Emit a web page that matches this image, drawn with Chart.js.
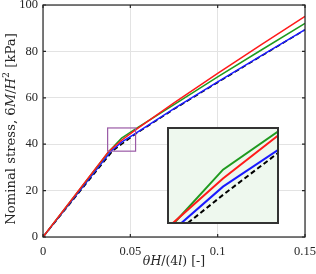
<!DOCTYPE html>
<html>
<head>
    <title>Nominal stress</title>
    <script src="https://cdn.jsdelivr.net/npm/chart.js@4.4.0/dist/chart.umd.min.js"></script>
    <style>
        body { margin: 0; background: #fff; }
        .wrap { position: relative; width: 316px; height: 274px; }
        #inset { position: absolute; left: 167px; top: 127px; }
    </style>
</head>
<body>
<div class="wrap">
    <canvas id="main" width="316" height="274"></canvas>
    <canvas id="inset" width="112" height="97"></canvas>
</div>
<script>
    // data
    const xRed   = [0, 0.0377, 0.045, 0.053, 0.075, 0.1, 0.125, 0.15];
    const yRed   = [0, 37.0, 41.7, 46.2, 57.8, 70.5, 82.9, 95.1];
    const xGreen = [0, 0.0379, 0.045, 0.053, 0.075, 0.1, 0.125, 0.15];
    const yGreen = [0, 37.0, 42.6, 46.6, 57.1, 69.0, 80.6, 92.1];
    const xBlue  = [0, 0.0389, 0.045, 0.053, 0.075, 0.1, 0.125, 0.15];
    const yBlue  = [0, 37.0, 40.85, 44.7, 55.3, 66.9, 78.2, 89.4];
    const xBlack = [0, 0.0398, 0.045, 0.053, 0.075, 0.1, 0.125, 0.15];
    const yBlack = [0, 37.0, 40.0, 44.4, 55.1, 66.6, 78.0, 89.3];

    const xTicks = [0, 0.05, 0.1, 0.15];
    const yTicks = [0, 20, 40, 60, 80, 100];
    // zoom window shown in the inset
    const zoomX = [0.037, 0.053];
    const zoomY = [37, 47];

    const serif = '"Liberation Serif", "DejaVu Serif", serif';
    const labelSerif = '"DejaVu Serif", serif';

    function pts(xs, ys) {
        return xs.map((x, i) => ({x: x, y: ys[i]}));
    }

    function makeSets(w) {
        return [
            {data: pts(xRed, yRed), borderColor: '#ff1a1a', borderWidth: w},
            {data: pts(xGreen, yGreen), borderColor: '#1f9a1f', borderWidth: w},
            {data: pts(xBlue, yBlue), borderColor: '#1a1aff', borderWidth: w},
            {data: pts(xBlack, yBlack), borderColor: '#000000', borderWidth: w, borderDash: [5, 3]}
        ].map(d => Object.assign(d, {pointRadius: 0, tension: 0, fill: false}));
    }

    // text with mixed upright / italic pieces
    function drawRuns(ctx, runs, cx, cy, rot) {
        ctx.save();
        ctx.translate(cx, cy);
        ctx.rotate(rot);
        ctx.textBaseline = 'middle';
        ctx.fillStyle = '#262626';
        let total = 0;
        runs.forEach(r => {
            ctx.font = (r.it ? 'italic ' : '') + r.size + 'px ' + labelSerif;
            total += ctx.measureText(r.t).width;
        });
        let x = -total / 2;
        runs.forEach(r => {
            ctx.font = (r.it ? 'italic ' : '') + r.size + 'px ' + labelSerif;
            ctx.fillText(r.t, x, r.dy || 0);
            x += ctx.measureText(r.t).width;
        });
        ctx.restore();
    }

    const framePlugin = {
        id: 'frame',
        afterDraw(chart) {
            const ctx = chart.ctx, a = chart.chartArea;
            const xs = chart.scales.x, ys = chart.scales.y;
            ctx.save();
            // zoom rectangle
            ctx.strokeStyle = '#9a5aa6';
            ctx.lineWidth = 1.2;
            const x0 = xs.getPixelForValue(zoomX[0]), x1 = xs.getPixelForValue(zoomX[1]);
            const y0 = ys.getPixelForValue(zoomY[0]), y1 = ys.getPixelForValue(zoomY[1]);
            ctx.strokeRect(x0, y1, x1 - x0, y0 - y1);
            // box and inward ticks
            ctx.strokeStyle = '#262626';
            ctx.lineWidth = 1.2;
            ctx.strokeRect(a.left, a.top, a.right - a.left, a.bottom - a.top);
            ctx.beginPath();
            xTicks.forEach(v => {
                const p = xs.getPixelForValue(v);
                ctx.moveTo(p, a.bottom); ctx.lineTo(p, a.bottom - 3);
                ctx.moveTo(p, a.top); ctx.lineTo(p, a.top + 3);
            });
            yTicks.forEach(v => {
                const p = ys.getPixelForValue(v);
                ctx.moveTo(a.left, p); ctx.lineTo(a.left + 3, p);
                ctx.moveTo(a.right, p); ctx.lineTo(a.right - 3, p);
            });
            ctx.stroke();
            ctx.restore();

            drawRuns(ctx, [
                {t: 'Nominal stress, 6', size: 13.2},
                {t: 'M', size: 13.2, it: true},
                {t: '/', size: 13.2},
                {t: 'H', size: 13.2, it: true},
                {t: '2', size: 9.5, dy: -5},
                {t: ' [kPa]', size: 13.2}
            ], 12, 129, -Math.PI / 2);
            drawRuns(ctx, [
                {t: 'θH', size: 12.5, it: true},
                {t: '/(4', size: 12.5},
                {t: 'l', size: 12.5, it: true},
                {t: ') [-]', size: 12.5}
            ], 174, 262, 0);
        }
    };

    new Chart(document.getElementById('main'), {
        type: 'line',
        data: {datasets: makeSets(1.5)},
        options: {
            responsive: false,
            devicePixelRatio: 1,
            animation: false,
            layout: {padding: {left: 0, right: 11, top: 5, bottom: 0}},
            plugins: {legend: {display: false}, tooltip: {enabled: false}},
            scales: {
                x: {
                    type: 'linear', min: 0, max: 0.15,
                    afterBuildTicks: s => { s.ticks = xTicks.map(v => ({value: v})); },
                    afterFit: s => { s.height = 37; s.paddingLeft = 0; s.paddingRight = 0; },
                    grid: {color: '#e3e3e3', drawTicks: false},
                    border: {display: false},
                    ticks: {
                        padding: 7, color: '#262626', maxRotation: 0,
                        font: {family: serif, size: 12.5},
                        callback: v => String(+v.toFixed(2))
                    }
                },
                y: {
                    min: 0, max: 100,
                    afterBuildTicks: s => { s.ticks = yTicks.map(v => ({value: v})); },
                    afterFit: s => { s.width = 43; s.paddingTop = 0; s.paddingBottom = 0; },
                    grid: {color: '#e3e3e3', drawTicks: false},
                    border: {display: false},
                    ticks: {padding: 5, color: '#262626', font: {family: serif, size: 12.5}}
                }
            }
        },
        plugins: [framePlugin]
    });

    const insetBg = {
        id: 'insetBg',
        beforeDraw(chart) {
            const ctx = chart.ctx;
            ctx.save();
            ctx.fillStyle = '#eef8ee';
            ctx.fillRect(0, 0, chart.width, chart.height);
            ctx.restore();
        },
        afterDraw(chart) {
            const ctx = chart.ctx;
            ctx.save();
            ctx.strokeStyle = '#333333';
            ctx.lineWidth = 2;
            ctx.strokeRect(1, 1, chart.width - 2, chart.height - 2);
            ctx.restore();
        }
    };

    new Chart(document.getElementById('inset'), {
        type: 'line',
        data: {datasets: makeSets(2)},
        options: {
            responsive: false,
            devicePixelRatio: 1,
            animation: false,
            layout: {padding: 0},
            plugins: {legend: {display: false}, tooltip: {enabled: false}},
            scales: {
                x: {type: 'linear', min: zoomX[0], max: zoomX[1], display: false},
                y: {min: zoomY[0], max: zoomY[1], display: false}
            }
        },
        plugins: [insetBg]
    });
</script>
</body>
</html>
